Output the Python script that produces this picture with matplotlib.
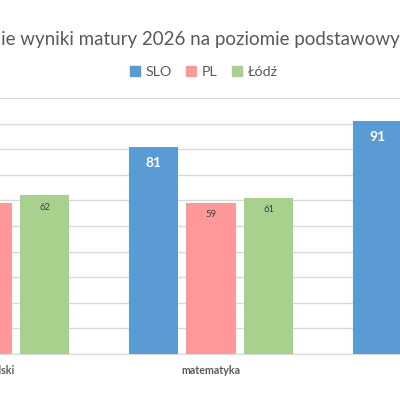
import matplotlib.pyplot as plt
from matplotlib.patches import Rectangle
import numpy as np

plt.rcParams['font.family'] = ['Lato', 'DejaVu Sans']

# data (the reference is a crop of a wider chart; off-screen values are estimates)
categories = ['język polski', 'matematyka', 'język angielski']
series = ['SLO', 'PL', 'Łódź']
slo = [84, 81, 91]
pl = [59, 59, 76]
lodz = [62, 61, 78]
colors = ['#5B9BD5', '#FF9999', '#A9D18E']
title = 'Średnie wyniki matury 2026 na poziomie podstawowym'

fig = plt.figure(figsize=(4, 4), dpi=100)
# axes deliberately wider than the figure, so the picture shows a crop
ax = fig.add_axes([-0.3125, 0.115, 1.68, 0.64])

x = np.arange(len(categories))
step = 0.2567
width = 0.221
for i, (vals, col) in enumerate(zip([slo, pl, lodz], colors)):
    pos = x + (i - 1) * step
    ax.bar(pos, vals, width=width, color=col, zorder=3)
    for px, v in zip(pos, vals):
        if i == 0:
            ax.annotate(str(v), (px, v), xytext=(0, -11.5), textcoords='offset points',
                        ha='center', va='center', color='white', fontsize=10,
                        fontweight='bold')
        else:
            ax.annotate(str(v), (px, v), xytext=(0, -8.6), textcoords='offset points',
                        ha='center', va='center', color='#404040', fontsize=6.8)

ax.set_xlim(-0.5, 2.5)
ax.set_ylim(0, 100)
ax.set_yticks(range(0, 101, 10))
ax.grid(axis='y', color='#d9d9d9', lw=1, zorder=0)
ax.set_xticks(x)
ax.set_xticklabels(categories, fontsize=7.7, fontweight='bold', color='#595959')
ax.tick_params(axis='x', length=0, pad=8)
ax.tick_params(axis='y', length=0, labelleft=False)
for s in ['top', 'right', 'left']:
    ax.spines[s].set_visible(False)
ax.spines['bottom'].set_color('#d9d9d9')

fig.text(0.46, 1 - 38 / 400, title, ha='center', va='center', fontsize=13.5,
         color='#595959')

handles = [Rectangle((0, 0), 1, 1, color=c) for c in colors]
fig.legend(handles, series, loc='center', bbox_to_anchor=(204 / 400, 1 - 72 / 400),
           ncol=3, frameon=False, fontsize=10.3, handlelength=0.7, handleheight=0.7,
           handletextpad=0.4, columnspacing=1.0, labelcolor='#595959')

fig.savefig('out.png', dpi=100)
